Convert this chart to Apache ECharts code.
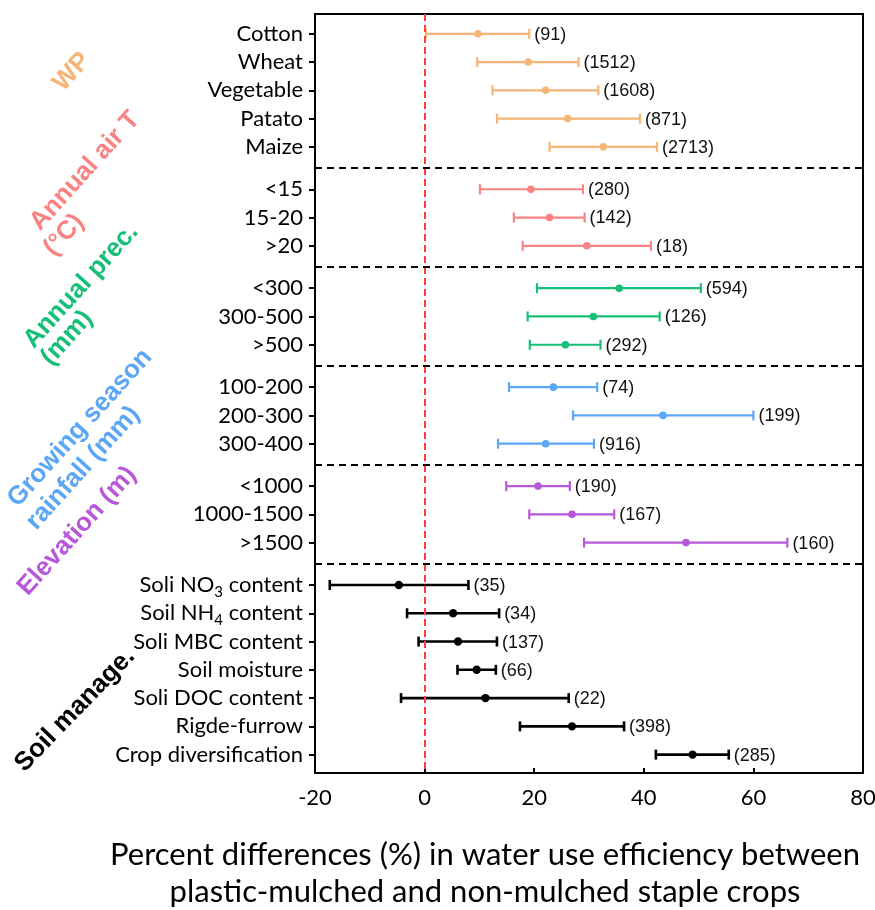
<!DOCTYPE html>
<html>
<head>
<meta charset="utf-8">
<script src="https://cdn.jsdelivr.net/npm/echarts@6/dist/echarts.min.js"></script>
<style>
html,body{margin:0;padding:0;background:#fff;}
#chart{width:875px;height:910px;}
</style>
</head>
<body>
<div id="chart"></div>
<script>
// ---------- data ----------
const groupNames = ['WP', 'Annual air T', 'Annual prec.', 'Growing season rainfall', 'Elevation', 'Soil manage.'];
const groupColors = ['#F4B577', '#F98383', '#15BF78', '#5CA6F6', '#B757DA', '#000000'];
const groupSizes = [5, 3, 3, 3, 3, 7];
const categories = [
  'Cotton', 'Wheat', 'Vegetable', 'Patato', 'Maize',
  '<15', '15-20', '>20',
  '<300', '300-500', '>500',
  '100-200', '200-300', '300-400',
  '<1000', '1000-1500', '>1500',
  'Soli NO{sub|3} content', 'Soil NH{sub|4} content', 'Soli MBC content', 'Soil moisture',
  'Soli DOC content', 'Rigde-furrow', 'Crop diversification'
];
const meanValues  = [9.75, 18.9, 22.1, 26.1, 32.6, 19.4, 22.8, 29.6, 35.5, 30.8, 25.7, 23.5, 43.5, 22.1, 20.7, 26.9, 47.7, -4.7, 5.2, 6.1, 9.5, 11.1, 26.9, 48.9];
const lowerValues = [0.25, 9.6, 12.4, 13.2, 22.8, 10.1, 16.3, 17.9, 20.5, 18.8, 19.2, 15.4, 27.1, 13.4, 14.9, 19.1, 29.1, -17.3, -3.2, -1.1, 6.0, -4.3, 17.4, 42.2];
const upperValues = [19.1, 28.1, 31.7, 39.3, 42.4, 28.9, 29.2, 41.3, 50.4, 42.9, 32.1, 31.5, 60.0, 30.9, 26.5, 34.6, 66.2, 8.0, 13.6, 13.2, 13.0, 26.3, 36.4, 55.5];
const sampleSizes = [91, 1512, 1608, 871, 2713, 280, 142, 18, 594, 126, 292, 74, 199, 916, 190, 167, 160, 35, 34, 137, 66, 22, 398, 285];
const xTicks = [-20, 0, 20, 40, 60, 80];

// ---------- layout helpers (row slots; half-row gap between groups) ----------
const rowGroup = [];
groupSizes.forEach((s, g) => { for (let i = 0; i < s; i++) rowGroup.push(g); });
const rowPos = rowGroup.map((g, i) => i + 0.5 * g);
const separators = [];
for (let i = 1; i < rowPos.length; i++) {
  if (rowGroup[i] !== rowGroup[i - 1]) separators.push((rowPos[i] + rowPos[i - 1]) / 2);
}
const labelByPos = {};
rowPos.forEach((p, i) => { labelByPos[Math.round(p * 100)] = categories[i]; });

const seriesData = rowPos.map((p, i) => [p, lowerValues[i], meanValues[i], upperValues[i], sampleSizes[i], rowGroup[i]]);

const LABEL_FONT = 'Lato, "Open Sans", sans-serif';
const chart = echarts.init(document.getElementById('chart'));

function renderItem(params, api) {
  const pos = api.value(0), lo = api.value(1), mid = api.value(2), hi = api.value(3);
  const n = api.value(4), g = api.value(5);
  const color = groupColors[g];
  const pL = api.coord([lo, pos]);
  const pM = api.coord([mid, pos]);
  const pH = api.coord([hi, pos]);
  const lw = g === 5 ? 2.6 : 2.2;
  const cap = 5;
  const r = g === 5 ? 4.2 : 3.8;
  return {
    type: 'group',
    children: [
      { type: 'line', shape: { x1: pL[0], y1: pL[1], x2: pH[0], y2: pH[1] }, style: { stroke: color, lineWidth: lw } },
      { type: 'line', shape: { x1: pL[0], y1: pL[1] - cap, x2: pL[0], y2: pL[1] + cap }, style: { stroke: color, lineWidth: lw } },
      { type: 'line', shape: { x1: pH[0], y1: pH[1] - cap, x2: pH[0], y2: pH[1] + cap }, style: { stroke: color, lineWidth: lw } },
      { type: 'circle', shape: { cx: pM[0], cy: pM[1], r: r }, style: { fill: color } },
      { type: 'text', x: pH[0] + 5, y: pH[1] + 1,
        style: { text: '(' + n + ')', fill: '#111', font: '18px "Liberation Sans", Arial, sans-serif',
                 align: 'left', verticalAlign: 'middle', textAlign: 'left', textVerticalAlign: 'middle' } }
    ]
  };
}

const deg = Math.PI / 180;
const GL_FONT = 'bold 26px "Liberation Sans", Arial, sans-serif';
function groupLabel(text, x, y, color, angle) {
  return { type: 'text', x: x, y: y, rotation: (angle || 48) * deg, z: 10,
    style: { text: text, font: GL_FONT, fill: color, align: 'center', verticalAlign: 'middle' } };
}

const option = {
  backgroundColor: '#fff',
  animation: false,
  grid: { left: 315, top: 14, width: 548, height: 759, show: true, borderColor: '#000', borderWidth: 2,
          backgroundColor: 'transparent', containLabel: false, outerBoundsMode: 'none' },
  xAxis: {
    type: 'value', min: -20, max: 80, interval: 20,
    axisLine: { show: true, onZero: false, lineStyle: { color: '#000', width: 2 } },
    axisTick: { show: true, inside: true, length: 5, lineStyle: { color: '#000', width: 2 } },
    axisLabel: { color: '#000', fontSize: 22, fontFamily: LABEL_FONT, margin: 14 },
    splitLine: { show: false },
    name: 'Percent differences (%) in water use efficiency between\nplastic-mulched and non-mulched staple crops',
    nameLocation: 'middle', nameGap: 63,
    nameTextStyle: { color: '#000', fontSize: 31, fontFamily: LABEL_FONT, lineHeight: 37, align: 'center',
                     padding: [0, 208, 0, 0] }
  },
  yAxis: {
    type: 'value', inverse: true, min: -0.7, max: 26.15,
    axisLine: { show: true, onZero: false, lineStyle: { color: '#000', width: 2 } },
    axisTick: { show: true, inside: false, length: 6, lineStyle: { color: '#000', width: 2 }, customValues: rowPos },
    axisLabel: {
      customValues: rowPos, margin: 12, color: '#000', fontSize: 22, fontFamily: LABEL_FONT,
      formatter: function (v) { return labelByPos[Math.round(v * 100)] || ''; },
      rich: { sub: { fontSize: 15, fontFamily: LABEL_FONT, color: '#000', padding: [14, 0, 0, 0] } }
    },
    splitLine: { show: false }
  },
  series: [{
    type: 'custom',
    renderItem: renderItem,
    encode: { x: [1, 2, 3], y: 0 },
    data: seriesData,
    clip: false,
    markLine: {
      silent: true, symbol: 'none', label: { show: false }, animation: false,
      data: [
        { xAxis: 0, lineStyle: { color: '#FF3B3B', width: 2, type: [7, 4] } }
      ].concat(separators.map(s => ({ yAxis: s, lineStyle: { color: '#000', width: 2, type: [7, 5] } })))
    }
  }],
  graphic: [
    groupLabel(groupNames[0], 72, 72, groupColors[0]),
    groupLabel('Annual air T', 85, 171, groupColors[1]),
    groupLabel('(°C)', 64, 235, groupColors[1]),
    groupLabel('Annual prec.', 81, 286, groupColors[2]),
    groupLabel('(mm)', 67, 338, groupColors[2]),
    groupLabel('Growing season', 80, 428, groupColors[3]),
    groupLabel('rainfall (mm)', 83, 468, groupColors[3]),
    groupLabel('Elevation (m)', 77, 531, groupColors[4]),
    groupLabel(groupNames[5], 75, 710, groupColors[5], 46)
  ]
};
chart.setOption(option);
</script>
</body>
</html>
